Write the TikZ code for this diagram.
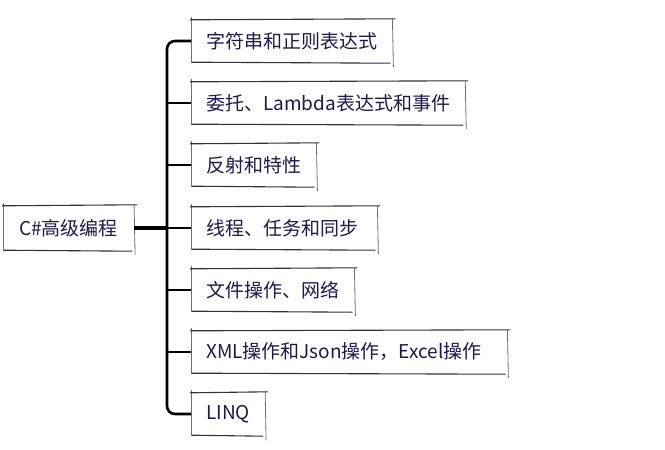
\documentclass[tikz,border=0pt]{standalone}
\usepackage{fontspec}
\setmainfont{Noto Sans CJK SC}
\usetikzlibrary{positioning}
\definecolor{inkblue}{RGB}{28,24,78}
\definecolor{rimgray}{RGB}{110,110,110}

\begin{document}
\begin{tikzpicture}[x=1pt,y=-1pt]
\tikzstyle{topic} = [rectangle, minimum height=42pt, inner xsep=15pt, text=inkblue, font=\fontsize{19}{21}\selectfont, anchor=west]
\tikzstyle{rim} = [draw=rimgray, line width=0.8pt]
\tikzstyle{rimdark} = [draw=black!80, line width=1.1pt]
\tikzstyle{trunk} = [line width=2.6pt, rounded corners=8pt]
\tikzstyle{branch} = [line width=2.4pt]

\useasboundingbox (0,0) rectangle (665,450);

\node (root) [topic, inner xsep=16pt, minimum height=44pt] at (3,228) {C\#高级编程};
\coordinate (hub) at (167,228);

\node (c1) [topic] at (191,41)  {字符串和正则表达式};
\node (c2) [topic] at (191,103) {委托、Lambda表达式和事件};
\node (c3) [topic] at (191,165) {反射和特性};
\node (c4) [topic, text width=156pt, align=left] at (191,228) {线程、任务和同步};
\node (c5) [topic] at (191,290) {文件操作、网络};
\node (c6) [topic, text width=286pt, align=left] at (191,352) {XML操作和Json操作，Excel操作};
\node (c7) [topic] at (191,414) {LINQ};

% hand-drawn looking borders
\foreach \n in {root,c1,c2,c3,c4,c5,c6,c7} {
  \draw [rim] ([yshift=3pt]\n.north west) -- ([yshift=-1pt]\n.south west);
  \draw [rimdark] ([xshift=-1pt]\n.north west) -- ([xshift=3pt,yshift=1pt]\n.north east);
  \draw [rim] ([yshift=2pt]\n.north east) -- ([xshift=1pt,yshift=-5pt]\n.south east);
  \draw [rimdark] ([xshift=1pt]\n.south west) -- ([xshift=-2pt,yshift=-1pt]\n.south east);
}

\draw [trunk] (c1.west) -| (hub) |- (c7.west);
\foreach \n in {c2,c3,c4,c5,c6}
  \draw [branch] (\n.west -| hub) -- (\n.west);
\draw [line width=3.6pt] (root.east) -- (hub);
\end{tikzpicture}
\end{document}
